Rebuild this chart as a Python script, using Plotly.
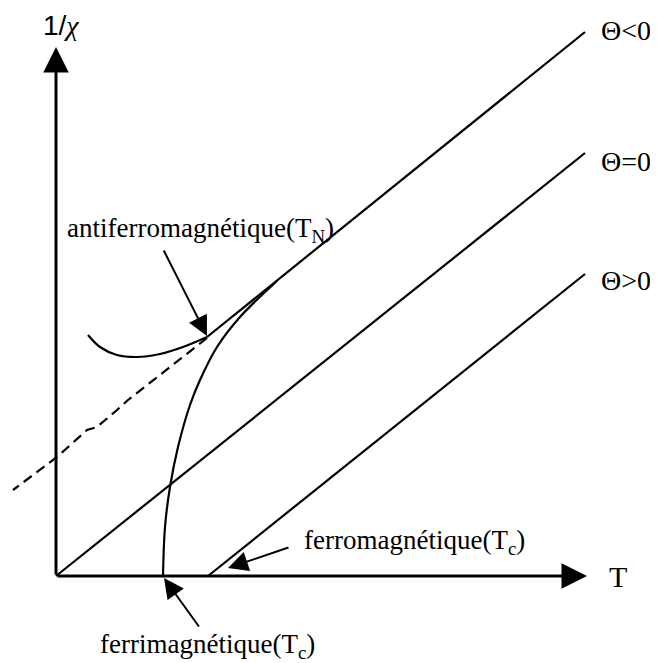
import plotly.graph_objects as go

# schematic 1/chi vs T (arbitrary units, origin at the axes corner)
t_axis_end = 53.1
chi_axis_end = 52.9

theta_zero_t = [0.0, 52.9]
theta_zero_y = [0.0, 42.3]
theta_neg_t = [15.1, 52.9]
theta_neg_y = [23.9, 54.4]
theta_pos_t = [15.2, 52.9]
theta_pos_y = [0.0, 30.2]

dashed_t = [15.1, 9.7, 7.2, 6.1, 4.1, 3.1, 0.1, -4.3]
dashed_y = [23.8, 19.6, 17.6, 16.6, 14.9, 14.6, 11.9, 8.6]

antiferro_t = [3.2, 4.4, 6.1, 8.1, 10.4, 12.7, 15.1]
antiferro_y = [24.1, 22.9, 22.1, 21.9, 22.2, 22.9, 23.9]

ferri_t = [22.1, 18.4, 16.1, 14.4, 13.4, 12.2, 11.4, 10.9, 10.7]
ferri_y = [29.5, 25.9, 22.9, 19.6, 17.1, 12.9, 8.9, 4.9, 0.0]

theta_labels = ["Θ<0", "Θ=0", "Θ>0"]
theta_label_y = [54.6, 41.5, 29.6]

SERIF = "Liberation Serif"
SANS = "Liberation Sans"

fig = go.Figure()

line = dict(color="black", width=2.2)
fig.add_trace(go.Scatter(x=theta_zero_t, y=theta_zero_y, mode="lines", line=line))
fig.add_trace(go.Scatter(x=theta_neg_t, y=theta_neg_y, mode="lines", line=line))
fig.add_trace(go.Scatter(x=theta_pos_t, y=theta_pos_y, mode="lines", line=line))
fig.add_trace(go.Scatter(x=dashed_t, y=dashed_y, mode="lines",
                         line=dict(color="black", width=2.2, dash="10px,6px")))
fig.add_trace(go.Scatter(x=antiferro_t, y=antiferro_y, mode="lines",
                         line=dict(color="black", width=2.2, shape="spline")))
fig.add_trace(go.Scatter(x=ferri_t, y=ferri_y, mode="lines",
                         line=dict(color="black", width=2.2, shape="spline")))

# axes drawn as arrows
for tip_x, tip_y in [(t_axis_end, 0), (0, chi_axis_end)]:
    fig.add_annotation(x=tip_x, y=tip_y, ax=0, ay=0, xref="x", yref="y",
                       axref="x", ayref="y", text="", showarrow=True,
                       arrowhead=2, arrowsize=1.7, arrowwidth=3, arrowcolor="black")

fig.add_annotation(x=0.5, y=55.1,
                   text="1/<span style='font-family:Liberation Serif'><i>χ</i></span>",
                   showarrow=False,
                   font=dict(family=SANS, size=28, color="black"))
fig.add_annotation(x=56.2, y=0, text="T", showarrow=False,
                   font=dict(family=SERIF, size=30, color="black"))

for lab, ly in zip(theta_labels, theta_label_y):
    fig.add_annotation(x=54.3, y=ly, text=lab, showarrow=False, xanchor="left",
                       font=dict(family=SERIF, size=28, color="black"))

# pointer labels
fig.add_annotation(x=0.9, y=34.6, text="antiferromagnétique(T<sub>N</sub>)",
                   showarrow=False, xanchor="left",
                   font=dict(family=SERIF, size=27, color="black"))
fig.add_annotation(x=24.6, y=3.4, text="ferromagnétique(T<sub>c</sub>)",
                   showarrow=False, xanchor="left",
                   font=dict(family=SERIF, size=27, color="black"))
fig.add_annotation(x=15.1, y=-7.0, text="ferrimagnétique(T<sub>c</sub>)",
                   showarrow=False,
                   font=dict(family=SERIF, size=27, color="black"))

pointers = [((15.1, 24.0), (10.7, 32.7)),
            ((17.2, 0.8), (23.4, 2.9)),
            ((10.8, -0.2), (14.4, -5.2))]
for (hx, hy), (tx, ty) in pointers:
    fig.add_annotation(x=hx, y=hy, ax=tx, ay=ty, xref="x", yref="y",
                       axref="x", ayref="y", text="", showarrow=True,
                       arrowhead=2, arrowsize=2, arrowwidth=2, arrowcolor="black")

# the page body has an 8px margin, so the figure is a bit smaller than the window
fig.update_layout(width=650, height=655, showlegend=False,
                  margin=dict(l=0, r=0, t=0, b=0),
                  plot_bgcolor="white", paper_bgcolor="white")
fig.update_xaxes(range=[-4.8, 60.2], visible=False)
fig.update_yaxes(range=[-8.7, 56.8], visible=False)

fig.write_html("out.html")
